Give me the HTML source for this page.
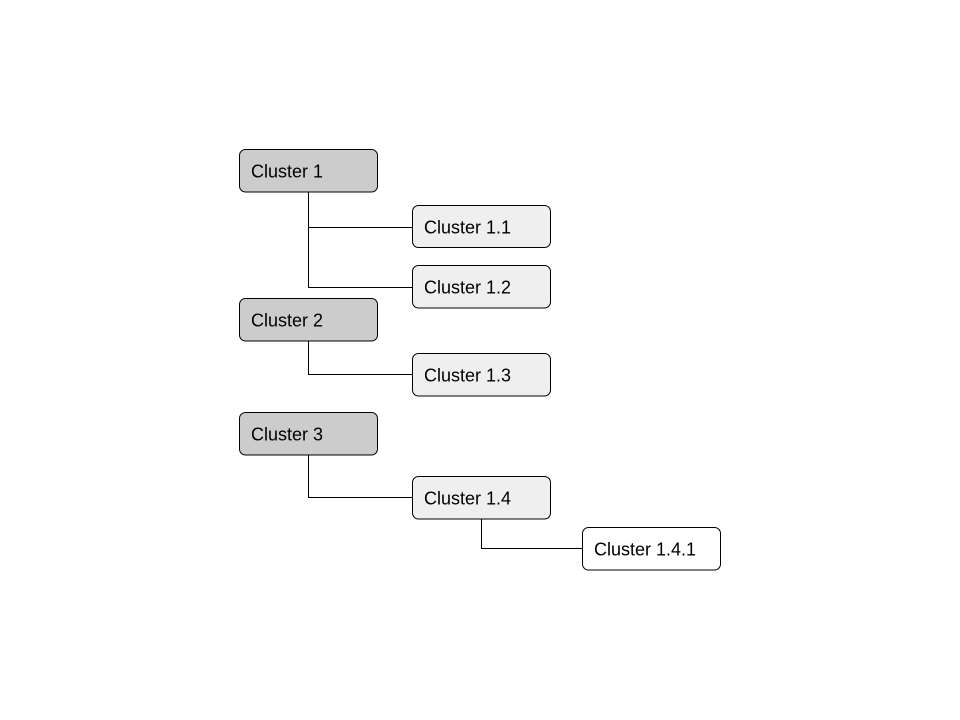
<!DOCTYPE html>
<html><head><meta charset="utf-8"><style>
html,body{margin:0;padding:0;background:#fff;width:960px;height:720px;overflow:hidden}
text{font-family:"Liberation Sans",Arial,sans-serif;font-size:18px;fill:#000}
</style></head><body>
<svg width="960" height="720" xmlns="http://www.w3.org/2000/svg">
<g fill="none" stroke="#000" stroke-width="1">
<path d="M308.5 192 V287.5 H412 M308.5 227.5 H412"/>
<path d="M308.5 341 V374.5 H412"/>
<path d="M308.5 455 V497.5 H412"/>
<path d="M481.5 519 V548.5 H582"/>
</g>
<g stroke="#000" stroke-width="1">
<rect x="239.5" y="149.5" width="138" height="42.5" rx="6" fill="#cccccc"/>
<rect x="412.5" y="205.5" width="138" height="42" rx="6" fill="#efefef"/>
<rect x="412.5" y="265.5" width="138" height="42.5" rx="6" fill="#efefef"/>
<rect x="239.5" y="298.5" width="138" height="42.5" rx="6" fill="#cccccc"/>
<rect x="412.5" y="353.5" width="138" height="42.5" rx="6" fill="#efefef"/>
<rect x="239.5" y="412.5" width="138" height="42.5" rx="6" fill="#cccccc"/>
<rect x="412.5" y="476.5" width="138" height="42.5" rx="6" fill="#efefef"/>
<rect x="582.5" y="527.5" width="138" height="42.5" rx="6" fill="#ffffff"/>
</g>
<text x="251" y="177.5">Cluster 1</text>
<text x="424" y="233.5">Cluster 1.1</text>
<text x="424" y="293.5">Cluster 1.2</text>
<text x="251" y="326.5">Cluster 2</text>
<text x="424" y="381.5">Cluster 1.3</text>
<text x="251" y="440.5">Cluster 3</text>
<text x="424" y="504.5">Cluster 1.4</text>
<text x="594" y="555.5">Cluster 1.4.1</text>
</svg>
</body></html>
